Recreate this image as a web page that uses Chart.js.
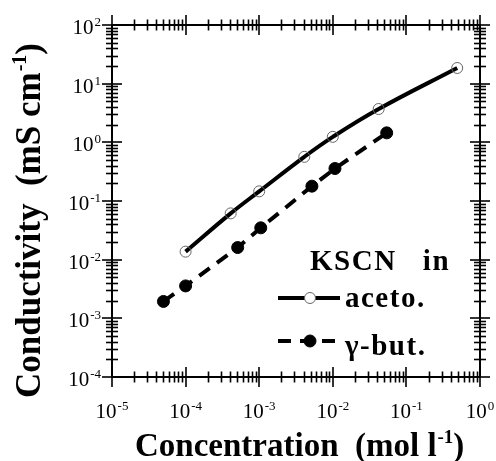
<!DOCTYPE html>
<html><head><meta charset="utf-8">
<script src="https://cdn.jsdelivr.net/npm/chart.js@4/dist/chart.umd.min.js"></script>
<style>html,body{margin:0;padding:0;background:#fff;}canvas{display:block;}</style>
</head><body>
<canvas id="c" width="496" height="461"></canvas>
<script>
// ---- data ----
const acetoConc = [1e-4, 4.1e-4, 1e-3, 4.1e-3, 1e-2, 4.2e-2, 0.49];
const acetoCond = [0.0137, 0.0615, 0.146, 0.566, 1.24, 3.7, 18.5];
const butConc   = [5e-5, 1e-4, 5.1e-4, 1.05e-3, 5.2e-3, 1.07e-2, 5.4e-2];
const butCond   = [0.00194, 0.00357, 0.0161, 0.0349, 0.179, 0.358, 1.45];

const xTickValues = [1e-5, 1e-4, 1e-3, 1e-2, 1e-1, 1];
const xTickExps   = ['-5', '-4', '-3', '-2', '-1', '0'];
const yTickValues = [1e-4, 1e-3, 1e-2, 1e-1, 1, 10, 100];
const yTickExps   = ['-4', '-3', '-2', '-1', '0', '1', '2'];

const seriesLabels = ['aceto.', 'γ-but.'];
const legendTitle = 'KSCN   in';
const xTitle = ['Concentration  (mol l', '-1', ')'];
const yTitle = ['Conductivity  (mS cm', '-1', ')'];

const SERIF = '"Liberation Serif", "Times New Roman", serif';

function pts(xs, ys){ return xs.map((v,i)=>({x:v, y:ys[i]})); }

const axesPlugin = {
  id: 'axesPlugin',
  afterDraw(chart){
    const {ctx, chartArea:a, scales:{x, y}} = chart;
    ctx.save();
    ctx.strokeStyle = '#000';
    ctx.fillStyle = '#000';
    // frame
    ctx.lineWidth = 2;
    ctx.strokeRect(a.left, a.top, a.right - a.left, a.bottom - a.top);
    // ticks
    ctx.lineWidth = 1.6;
    const seg = (x1,y1,x2,y2)=>{ctx.beginPath();ctx.moveTo(x1,y1);ctx.lineTo(x2,y2);ctx.stroke();};
    const minorSet = [2,3,4,5,6,7,8,9];
    for (let i=0;i<xTickValues.length;i++){
      const v = xTickValues[i];
      const px = Math.round(x.getPixelForValue(v));
      for (const yy of [a.bottom, a.top]) seg(px, yy-10, px, yy+10);
      if (i < xTickValues.length-1){
        for (const m of minorSet){
          const mp = Math.round(x.getPixelForValue(v*m))+0.5;
          for (const yy of [a.bottom, a.top]) seg(mp, yy-5.5, mp, yy+5.5);
        }
      }
    }
    for (let i=0;i<yTickValues.length;i++){
      const v = yTickValues[i];
      const py = Math.round(y.getPixelForValue(v));
      for (const xx of [a.left, a.right]) seg(xx-10, py, xx+10, py);
      if (i < yTickValues.length-1){
        for (const m of minorSet){
          const mp = Math.round(y.getPixelForValue(v*m))+0.5;
          for (const xx of [a.left, a.right]) seg(xx-6, mp, xx+6, mp);
        }
      }
    }
    // tick labels
    const baseF = '21px ' + SERIF, supF = '13px ' + SERIF;
    ctx.textBaseline = 'alphabetic';
    ctx.textAlign = 'left';
    for (let i=0;i<xTickValues.length;i++){
      const px = x.getPixelForValue(xTickValues[i]);
      ctx.font = baseF; const wb = ctx.measureText('10').width;
      ctx.font = supF;  const ws = ctx.measureText(xTickExps[i]).width;
      const x0 = px - (wb + 1 + ws)/2;
      ctx.font = baseF; ctx.fillText('10', x0, 418);
      ctx.font = supF;  ctx.fillText(xTickExps[i], x0 + wb + 1, 410);
    }
    for (let i=0;i<yTickValues.length;i++){
      const py = y.getPixelForValue(yTickValues[i]);
      ctx.font = baseF; const wb = ctx.measureText('10').width;
      ctx.font = supF;  const ws = ctx.measureText(yTickExps[i]).width;
      const x0 = 101 - (wb + 1 + ws);
      ctx.font = baseF; ctx.fillText('10', x0, py + 9);
      ctx.font = supF;  ctx.fillText(yTickExps[i], x0 + wb + 1, py + 1);
    }
    // x title
    ctx.font = 'bold 33px ' + SERIF;
    let cx = 135;
    ctx.fillText(xTitle[0], cx, 456); cx += ctx.measureText(xTitle[0]).width + 1;
    ctx.font = 'bold 19px ' + SERIF;
    ctx.fillText(xTitle[1], cx, 443); cx += ctx.measureText(xTitle[1]).width;
    ctx.font = 'bold 33px ' + SERIF;
    ctx.fillText(xTitle[2], cx, 456);
    // y title (rotated)
    ctx.save();
    ctx.translate(40, 398);
    ctx.rotate(-Math.PI/2);
    ctx.font = 'bold 35px ' + SERIF;
    let cy = 0;
    ctx.fillText(yTitle[0], cy, 0); cy += ctx.measureText(yTitle[0]).width + 1;
    ctx.font = 'bold 20px ' + SERIF;
    ctx.fillText(yTitle[1], cy, -14); cy += ctx.measureText(yTitle[1]).width;
    ctx.font = 'bold 35px ' + SERIF;
    ctx.fillText(yTitle[2], cy, 0);
    ctx.restore();

    // legend
    const ds = chart.data.datasets;
    ctx.font = 'bold 29px ' + SERIF;
    ctx.letterSpacing = '1.5px';
    ctx.fillText(legendTitle, 310, 270);
    const rows = [{y:298, ty:307}, {y:341, ty:355}];
    rows.forEach((r, i)=>{
      const d = ds[i];
      ctx.save();
      ctx.lineWidth = d.borderWidth;
      ctx.strokeStyle = d.borderColor;
      ctx.setLineDash(d.borderDash || []);
      ctx.lineDashOffset = 0;
      seg(278, r.y, 340, r.y);
      ctx.restore();
      ctx.beginPath();
      ctx.arc(310, r.y, d.pointRadius, 0, Math.PI*2);
      if (d.pointBackgroundColor && d.pointBackgroundColor !== 'rgba(0,0,0,0)'){
        ctx.fillStyle = d.pointBackgroundColor; ctx.fill();
      } else {
        ctx.fillStyle = '#fff'; ctx.fill();
      }
      ctx.lineWidth = d.pointBorderWidth; ctx.strokeStyle = d.pointBorderColor; ctx.stroke();
      ctx.fillStyle = '#000';
      ctx.fillText(seriesLabels[i], 345, r.ty);
    });
    ctx.letterSpacing = '0px';
    ctx.restore();
  }
};

new Chart(document.getElementById('c'), {
  type: 'scatter',
  data: {
    datasets: [
      {
        label: seriesLabels[0],
        data: pts(acetoConc, acetoCond),
        showLine: true,
        borderColor: '#000',
        borderWidth: 4,
        tension: 0.4,
        pointRadius: 5.5,
        pointBackgroundColor: 'rgba(0,0,0,0)',
        pointBorderColor: '#666',
        pointBorderWidth: 1
      },
      {
        label: seriesLabels[1],
        data: pts(butConc, butCond),
        showLine: true,
        borderColor: '#000',
        borderWidth: 4,
        borderDash: [13, 9],
        pointRadius: 6,
        pointBackgroundColor: '#000',
        pointBorderColor: '#000',
        pointBorderWidth: 1
      }
    ]
  },
  options: {
    responsive: false,
    animation: false,
    devicePixelRatio: 1,
    layout: { padding: { left: 112, right: 16, top: 25, bottom: 84 } },
    scales: {
      x: { type: 'logarithmic', min: 1e-5, max: 1, display: false },
      y: { type: 'logarithmic', min: 1e-4, max: 100, display: false }
    },
    plugins: { legend: { display: false }, tooltip: { enabled: false } }
  },
  plugins: [axesPlugin]
});
</script>
</body></html>
